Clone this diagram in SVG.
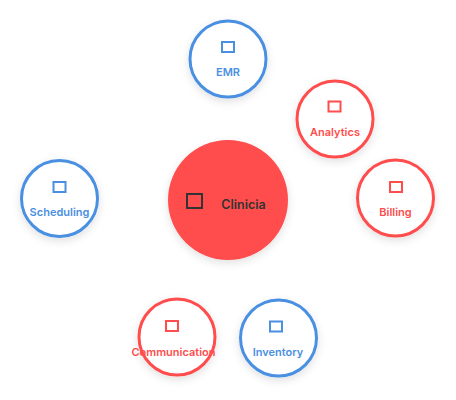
<svg xmlns="http://www.w3.org/2000/svg" width="456" height="400" viewBox="0 0 456 400">
  <style>
    .sat { fill: #ffffff; stroke-width: 3; filter: url(#shadow); }
    .blue { stroke: #4a90e2; }
    .red { stroke: #ff4d4d; }
    .icon { fill: none; stroke-width: 2; }
    .lbl { font-family: Inter, "Liberation Sans", sans-serif; font-size: 11px; font-weight: 600; text-anchor: middle; }
    .tblue { fill: #4a90e2; }
    .tred { fill: #ff4d4d; }
  </style>
  <defs>
    <filter id="shadow" x="-30%" y="-30%" width="160%" height="160%">
      <feDropShadow dx="0" dy="3" stdDeviation="4" flood-color="#000000" flood-opacity="0.12"/>
    </filter>
  </defs>
  <rect width="456" height="400" fill="#ffffff"/>
  <g id="connectors"></g>
  <g id="node-clinicia">
    <circle cx="228" cy="200" r="60" fill="#ff4d4d" filter="url(#shadow)"/>
    <rect x="187" y="194" width="15" height="14" fill="none" stroke="#333333" stroke-width="2"/>
    <text x="243.5" y="209" font-family="Inter, 'Liberation Sans', sans-serif" font-size="12.5" font-weight="600" fill="#333333" text-anchor="middle">Clinicia</text>
  </g>
  <g id="node-emr">
    <circle class="sat blue" cx="228" cy="59" r="38"/>
    <rect class="icon blue" x="222" y="42" width="12" height="10"/>
    <text class="lbl tblue" x="228" y="76">EMR</text>
  </g>
  <g id="node-analytics">
    <circle class="sat red" cx="335" cy="119" r="38"/>
    <rect class="icon red" x="328.5" y="101.5" width="12" height="10"/>
    <text class="lbl tred" x="335" y="136">Analytics</text>
  </g>
  <g id="node-billing">
    <circle class="sat red" cx="395.5" cy="198" r="38"/>
    <rect class="icon red" x="390" y="182" width="12" height="10"/>
    <text class="lbl tred" x="395.5" y="216">Billing</text>
  </g>
  <g id="node-scheduling">
    <circle class="sat blue" cx="59.5" cy="198.5" r="38"/>
    <rect class="icon blue" x="53.5" y="182" width="12" height="10"/>
    <text class="lbl tblue" x="59.5" y="216">Scheduling</text>
  </g>
  <g id="node-communication">
    <circle class="sat red" cx="177" cy="337" r="38"/>
    <rect class="icon red" x="166" y="321" width="12" height="10"/>
    <text class="lbl tred" x="173.5" y="356">Communication</text>
  </g>
  <g id="node-inventory">
    <circle class="sat blue" cx="278.5" cy="338" r="38"/>
    <rect class="icon blue" x="270" y="321.5" width="12" height="10"/>
    <text class="lbl tblue" x="278" y="356">Inventory</text>
  </g>
</svg>
